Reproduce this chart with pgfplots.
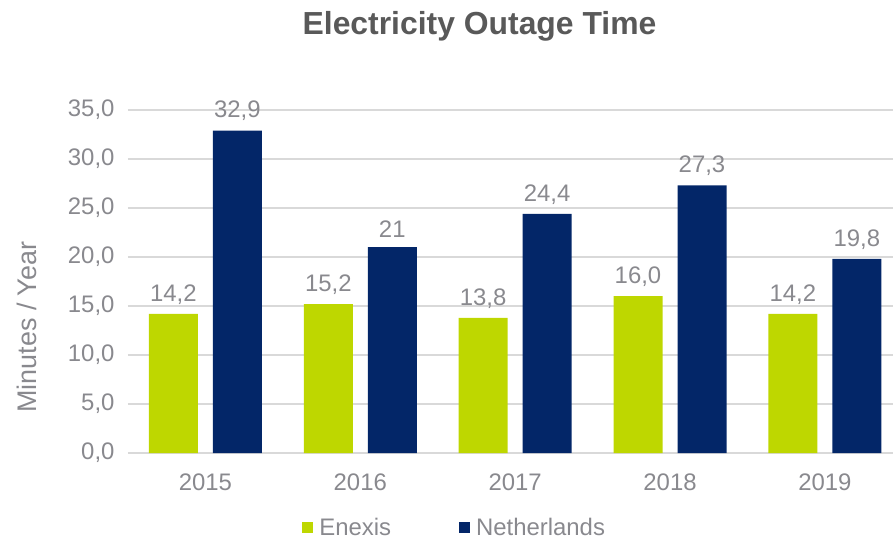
\documentclass[border=0pt]{standalone}
\usepackage{fontspec}
\setmainfont{Liberation Sans}
\usepackage{pgfplots}
\usepackage{pgfplotstable}
\pgfplotsset{compat=1.18}
\definecolor{enexis}{RGB}{190,215,0}
\definecolor{nl}{RGB}{3,38,104}
\definecolor{txtgray}{RGB}{137,137,142}
\definecolor{titlegray}{RGB}{89,89,89}
\definecolor{gridgray}{RGB}{217,217,217}

\pgfplotstableread{
x enexis elabel neth nlabel
0 14.2 14,2 32.9 32,9
1 15.2 15,2 21.0 21
2 13.8 13,8 24.4 24,4
3 16.0 16,0 27.3 27,3
4 14.2 14,2 19.8 19,8
}\outage

\begin{document}
\begin{tikzpicture}
\useasboundingbox (-128bp,-89bp) rectangle (765bp,453bp);
\begin{axis}[
    at={(0,0)}, anchor=south west,
    scale only axis,
    width=765bp, height=343bp,
    ybar=15bp, bar width=49bp,
    xmin=-0.5, xmax=4.44,
    ymin=0, ymax=35,
    ytick={0,5,...,35},
    xtick={0,1,2,3,4},
    xticklabels={2015,2016,2017,2018,2019},
    axis line style={draw=none},
    major tick style={draw=none},
    ymajorgrids,
    grid style={gridgray, line width=1.2bp},
    /pgf/number format/assume math mode=true,
    yticklabel={\pgfmathprintnumber[fixed,fixed zerofill,precision=1,use comma]{\tick}},
    ticklabel style={font=\fontsize{24}{28}\selectfont, text=txtgray},
    yticklabel style={xshift=-10bp},
    xticklabel style={yshift=-13bp},
    ylabel={Minutes / Year},
    ylabel style={at={(axis description cs:-0.132,0.367)}, anchor=center,
        font=\fontsize{27}{31}\selectfont, text=txtgray},
    title={Electricity Outage Time},
    title style={at={(axis description cs:0.4595,1.226)}, anchor=center,
        font=\fontsize{32}{36}\selectfont\bfseries, text=titlegray},
    nodes near coords,
    point meta=explicit symbolic,
    every node near coord/.append style={font=\fontsize{24}{28}\selectfont,
        text=txtgray, yshift=6bp},
    legend columns=2,
    legend style={at={(axis description cs:0.427,-0.218)}, anchor=center,
        draw=none, fill=none, font=\fontsize{24}{28}\selectfont, text=txtgray,
        nodes={inner ysep=1bp},
        /tikz/every odd column/.append style={column sep=4bp},
        /tikz/every even column/.append style={column sep=66bp}},
    legend image code/.code={\fill[#1] (0bp,-5.5bp) rectangle (11bp,5.5bp);},
]
\addplot[fill=enexis, draw=none] table[x=x, y=enexis, meta=elabel] {\outage};
\addlegendentry{Enexis}
\addplot[fill=nl, draw=none] table[x=x, y=neth, meta=nlabel] {\outage};
\addlegendentry{Netherlands}
\end{axis}
\end{tikzpicture}
\end{document}
